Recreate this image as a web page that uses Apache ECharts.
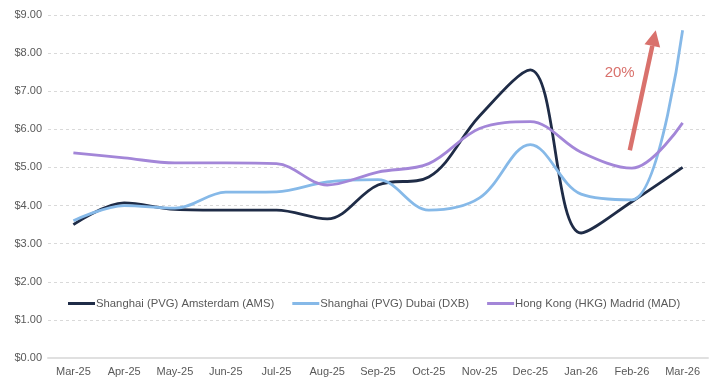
<!DOCTYPE html>
<html><head><meta charset="utf-8">
<script src="https://cdn.jsdelivr.net/npm/echarts@6/dist/echarts.min.js"></script>
<style>html,body{margin:0;padding:0;background:#fff}#c{width:720px;height:383px}</style>
</head><body><div id="c"></div>
<script>
const categories = ['Mar-25','Apr-25','May-25','Jun-25','Jul-25','Aug-25','Sep-25','Oct-25','Nov-25','Dec-25','Jan-26','Feb-26','Mar-26'];
const amsValues = [3.5, 4.07, 3.9, 3.88, 3.88, 3.65, 4.54, 4.75, 6.35, 7.56, 3.28, 4.1, 5.0];
const dxbValues = [3.6, 4.0, 3.93, 4.35, 4.36, 4.62, 4.68, 3.88, 4.2, 5.6, 4.3, 4.15, 8.6];
const madValues = [5.38, 5.25, 5.12, 5.12, 5.1, 4.54, 4.88, 5.1, 6.02, 6.2, 5.4, 4.98, 6.17];
const seriesNames = ['Shanghai (PVG) Amsterdam (AMS)', 'Shanghai (PVG) Dubai (DXB)', 'Hong Kong (HKG) Madrid (MAD)'];
const yTicks = [0,1,2,3,4,5,6,7,8,9];
// annotation: arrow from (category index, value) to (category index, value)
const arrowFrom = [10.96, 5.45];
const arrowTo = [11.47, 8.6];
const arrowLabel = '20%';
const arrowLabelAt = [10.76, 7.48];

const colors = ['#1f2c47', '#86b9e8', '#a386d8'];
const chart = echarts.init(document.getElementById('c'));
const font = 'Liberation Sans, Arial, sans-serif';
const mk = (name, data, color) => ({
  name, type: 'line', data, smooth: 0.35, symbol: 'none',
  lineStyle: { color, width: 2.8 }, itemStyle: { color }
});
chart.setOption({
  animation: false,
  grid: { left: 48, right: 12, top: 15, bottom: 25, containLabel: false },
  legend: {
    left: 63, top: 293, icon: 'rect', itemWidth: 27, itemHeight: 3, itemGap: 18,
    textStyle: { color: '#595959', fontSize: 11.3, fontFamily: font, padding: [0,0,0,-4] },
    data: seriesNames
  },
  xAxis: {
    type: 'category', data: categories, boundaryGap: true,
    axisLine: { lineStyle: { color: '#e0e0e0', width: 2 } },
    axisTick: { show: false },
    axisLabel: { color: '#595959', fontSize: 11, fontFamily: font, margin: 8, interval: 0 }
  },
  yAxis: {
    type: 'value', min: yTicks[0], max: yTicks[yTicks.length-1], interval: 1,
    axisLine: { show: false }, axisTick: { show: false },
    splitLine: { lineStyle: { color: '#d9d9d9', type: [3,3], width: 1 } },
    axisLabel: { color: '#595959', fontSize: 11, fontFamily: font, margin: 6,
      formatter: v => '$' + v.toFixed(2) }
  },
  series: [
    mk(seriesNames[0], amsValues, colors[0]),
    mk(seriesNames[1], dxbValues, colors[1]),
    mk(seriesNames[2], madValues, colors[2])
  ]
});

function px(pt) {
  const x0 = chart.convertToPixel({ xAxisIndex: 0 }, 0);
  const x1 = chart.convertToPixel({ xAxisIndex: 0 }, 1);
  const y = chart.convertToPixel({ yAxisIndex: 0 }, pt[1]);
  return [x0 + (x1 - x0) * pt[0], y];
}
const a = px(arrowFrom), b = px(arrowTo), t = px(arrowLabelAt);
const dx = b[0]-a[0], dy = b[1]-a[1], L = Math.hypot(dx, dy);
const ux = dx/L, uy = dy/L, nx = -uy, ny = ux;
const headLen = 16, headW = 8;
const base = [b[0]-ux*headLen, b[1]-uy*headLen];
const arrowColor = '#d9716c';
chart.setOption({
  graphic: [
    { type: 'line', shape: { x1: a[0], y1: a[1], x2: base[0], y2: base[1] },
      style: { stroke: arrowColor, lineWidth: 4.5 } },
    { type: 'polygon', shape: { points: [b, [base[0]+nx*headW, base[1]+ny*headW], [base[0]-nx*headW, base[1]-ny*headW]] },
      style: { fill: arrowColor } },
    { type: 'text', x: t[0], y: t[1],
      style: { text: arrowLabel, fill: arrowColor, font: '15px ' + font, textAlign: 'center', textVerticalAlign: 'middle' } }
  ]
});
</script></body></html>
